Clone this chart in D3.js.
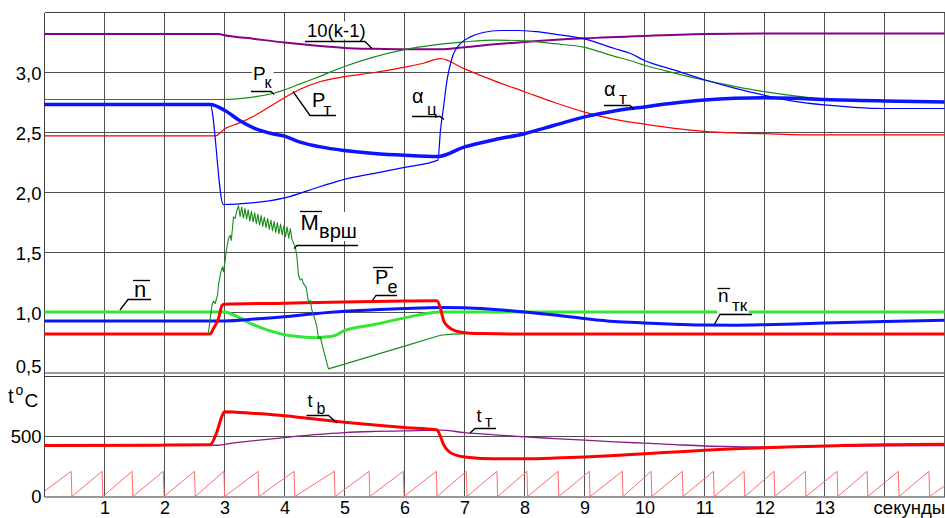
<!DOCTYPE html>
<html>
<head>
<meta charset="utf-8">
<script src="https://cdn.jsdelivr.net/npm/d3@7/dist/d3.min.js"></script>
<style>
body{margin:0;background:#fff}
svg{display:block;font-family:"Liberation Sans",Arial,sans-serif}
</style>
</head>
<body>
<svg width="945" height="518"></svg>
<script>
// tick labels
const seconds = [1,2,3,4,5,6,7,8,9,10,11,12,13];
const gridSeconds = [1,2,3,4,5,6,7,8,9,10,11,12,13,14];
const topTicks = [0.5,1,1.5,2,2.5,3];
const topGrid = [1,1.5,2,2.5,3];
const botTicks = [0,500];

// upper panel, [seconds, value]
const kMinus1 = [[0,3.32],[2.9,3.32],[3,3.31],[3.5,3.28],[4,3.25],[4.5,3.225],[5,3.205],[5.5,3.197],[6,3.193],[6.6,3.194],[7,3.21],[7.5,3.235],[8,3.255],[9,3.285],[10,3.305],[11,3.32],[12,3.325],[15,3.325]];
const pK = [[0,2.775],[2.9,2.775],[3.3,2.785],[3.6,2.805],[3.8,2.825],[4,2.855],[4.26,2.905],[4.6,2.97],[5,3.05],[5.5,3.13],[6,3.19],[6.5,3.23],[7,3.255],[7.5,3.27],[8,3.263],[8.5,3.24],[9,3.21],[9.5,3.135],[9.76,3.1],[10,3.06],[10.5,2.995],[11,2.936],[11.5,2.885],[12,2.84],[12.5,2.805],[13,2.78],[14,2.76],[15,2.75]];
const pT = [[0,2.472],[2.85,2.472],[3,2.53],[3.25,2.58],[3.5,2.64],[4,2.79],[4.26,2.86],[4.6,2.925],[5,2.965],[5.5,3.0],[6,3.045],[6.3,3.075],[6.6,3.115],[7,3.03],[7.5,2.93],[8,2.84],[8.5,2.75],[9,2.67],[9.5,2.61],[10,2.57],[10.5,2.535],[11,2.51],[11.5,2.497],[12,2.49],[13,2.48],[15,2.48]];
const alphaC = [[0,2.74],[2.76,2.735],[2.98,1.9],[3.2,1.903],[3.5,1.915],[4,1.955],[4.6,2.05],[5,2.11],[5.5,2.16],[6,2.21],[6.556,2.27],[6.6,2.52],[6.65,2.71],[6.71,2.94],[6.79,3.117],[6.93,3.24],[7.1,3.297],[7.31,3.333],[7.6,3.35],[7.87,3.35],[8.2,3.34],[8.5,3.32],[9,3.28],[9.5,3.2],[9.76,3.16],[10,3.1],[10.5,3.02],[11,2.94],[11.5,2.87],[12,2.81],[12.5,2.76],[13,2.73],[13.5,2.71],[14,2.7],[15,2.7]];
const alphaT = [[0,2.733],[2.76,2.733],[3,2.686],[3.25,2.6],[3.5,2.535],[3.8,2.49],[4,2.47],[4.26,2.42],[4.6,2.38],[5,2.35],[5.5,2.325],[6,2.31],[6.56,2.3],[7,2.38],[7.5,2.44],[8,2.49],[8.5,2.56],[9,2.63],[9.5,2.68],[10,2.713],[10.5,2.745],[11,2.77],[11.5,2.785],[12,2.79],[12.5,2.785],[13,2.775],[14,2.763],[15,2.755]];
const mVrsh = [[2.73,0.82],[2.79,1.06],[2.817,1.094],[2.845,1.075],[2.883,1.144],[2.9,1.23],[2.94,1.34],[2.967,1.38],[2.983,1.34],[3.012,1.436],[3.028,1.505],[3.067,1.617],[3.095,1.644],[3.112,1.6],[3.133,1.7],[3.15,1.797],[3.178,1.785],[3.207,1.85],
  [3.233,1.89],[3.26,1.8],[3.287,1.879],[3.314,1.786],[3.341,1.866],[3.368,1.778],[3.395,1.855],[3.422,1.762],[3.449,1.843],[3.476,1.755],[3.503,1.83],[3.53,1.74],[3.557,1.82],[3.584,1.728],[3.611,1.808],[3.638,1.718],[3.665,1.794],[3.692,1.706],[3.719,1.784],[3.746,1.692],[3.773,1.771],[3.8,1.682],[3.827,1.76],[3.854,1.668],[3.881,1.749],[3.908,1.657],[3.935,1.737],[3.962,1.647],[3.989,1.723],[4.016,1.633],[4.043,1.713],[4.07,1.62],[4.097,1.7],[4.124,1.612],
  [4.15,1.575],[4.18,1.547],[4.207,1.463],[4.233,1.31],[4.262,1.27],[4.29,1.28],[4.317,1.24],[4.36,1.213],[4.4,1.088],[4.43,1.1],[4.457,1.02],[4.512,0.935],[4.54,0.88],[4.567,0.783],[4.595,0.8],[4.65,0.686],[4.733,0.53],[5,0.57],[5.5,0.645],[6,0.72],[6.6,0.81],[6.8,0.82],[7.0,0.822]];
const nBar = [[0,1.005],[3.01,1.005],[3.15,0.98],[3.43,0.91],[3.71,0.855],[3.98,0.817],[4.26,0.797],[4.54,0.79],[4.71,0.797],[4.85,0.81],[5,0.85],[5.5,0.9],[6,0.955],[6.6,1.005],[15,1.005]];
const nTk = [[0,0.93],[3.01,0.93],[3.5,0.945],[4,0.965],[4.5,0.99],[5,1.01],[5.5,1.022],[6,1.033],[6.6,1.042],[7,1.04],[7.5,1.025],[8,1.005],[8.5,0.98],[9,0.95],[9.5,0.925],[10,0.913],[10.5,0.903],[11,0.895],[11.5,0.894],[12,0.898],[12.5,0.905],[13,0.912],[14,0.926],[15,0.936]];
const pE = [[0,0.82],[2.76,0.82],[2.82,0.87],[2.9,0.95],[2.96,1.06],[3,1.068],[4,1.078],[5,1.088],[6,1.095],[6.54,1.097],[6.6,1.033],[6.65,0.936],[6.73,0.88],[6.87,0.844],[7.04,0.83],[7.32,0.825],[8,0.82],[15,0.82]];

// lower panel, [seconds, degC]
const tB = [[0,425],[1.9,428],[2.76,432],[2.87,533],[2.96,673],[3,707],[3.5,692],[4,673],[4.5,645],[5,618],[5.5,595],[6,575],[6.54,556],[6.595,505],[6.65,435],[6.73,379],[6.87,343],[7.04,328],[7.5,315],[8,315],[8.5,320],[9,329],[9.5,342],[10,357],[10.5,371],[11,385],[11.5,397],[12,407],[12.5,415],[13,421],[14,432],[15,435]];
const tT = [[0,424],[2.9,427],[3,435],[3.5,465],[4,491],[4.5,515],[5,533],[5.5,542],[6,547],[6.6,553],[7,533],[7.5,514],[8,497],[8.5,483],[9,469],[9.5,456],[10,444],[10.5,432],[11,421],[11.5,415],[12,412],[13,418],[14,423],[15,425]];
// cycle marker: moments where the saw drops back to 0
const sawDrops = [0.445,0.96,1.46,1.98,2.5,2.99,3.56,4.16,4.83,5.41,5.98,6.53,7.03,7.54,8.04,8.56,9.08,9.63,10.11,10.63,11.15,11.66,12.16,12.68,13.21,13.71,14.23,14.74];
const sawTop = 210, sawStart = 45, sawEnd = 90;

const svg = d3.select("svg");
const x = d3.scaleLinear().domain([0,15]).range([44.5,944.5]);
const yTop = d3.scaleLinear().domain([0.5,3.5]).range([372.5,12.5]);
const yBot = d3.scaleLinear().domain([0,1000]).range([496.5,376.5]);

// grid
const grid = svg.append("g").attr("shape-rendering","crispEdges");
grid.selectAll(".vg").data(gridSeconds).enter().append("line")
  .attr("x1",d=>x(d)).attr("x2",d=>x(d)).attr("y1",yTop(3.5)).attr("y2",yBot(0))
  .attr("stroke","#505050");
grid.selectAll(".hg").data(topGrid).enter().append("line")
  .attr("x1",x(0)).attr("x2",x(15)).attr("y1",d=>yTop(d)).attr("y2",d=>yTop(d))
  .attr("stroke","#505050");
grid.append("line").attr("x1",x(0)).attr("x2",x(15)).attr("y1",yBot(500)).attr("y2",yBot(500)).attr("stroke","#505050");
// frames
grid.append("line").attr("x1",x(0)).attr("x2",x(15)).attr("y1",yTop(3.5)).attr("y2",yTop(3.5)).attr("stroke","#404040");
grid.append("line").attr("x1",x(0)).attr("x2",x(15)).attr("y1",yBot(1000)).attr("y2",yBot(1000)).attr("stroke","#404040");
grid.append("line").attr("x1",x(0)).attr("x2",x(15)).attr("y1",yTop(0.5)).attr("y2",yTop(0.5)).attr("stroke","#999").attr("stroke-width",2);
grid.append("line").attr("x1",x(0)).attr("x2",x(15)).attr("y1",yBot(0)).attr("y2",yBot(0)).attr("stroke","#999").attr("stroke-width",2);
grid.append("line").attr("x1",x(0)).attr("x2",x(0)).attr("y1",yTop(3.5)).attr("y2",yBot(0)).attr("stroke","#404040");
grid.append("line").attr("x1",x(15)).attr("x2",x(15)).attr("y1",yTop(3.5)).attr("y2",yBot(0)).attr("stroke","#606060");

// axes
const font = 18.5;
svg.append("g").attr("transform",`translate(${x(0)-2},0)`)
  .call(d3.axisLeft(yTop).tickValues(topTicks).tickSize(0).tickPadding(1)
    .tickFormat(d=>d.toFixed(1).replace(".",",")))
  .call(g=>g.select(".domain").remove())
  .call(g=>g.selectAll("text").attr("font-size",font).attr("font-family",null).attr("dy",d=>d==0.5?"0em":"0.38em"));
svg.append("g").attr("transform",`translate(${x(0)-2},0)`)
  .call(d3.axisLeft(yBot).tickValues(botTicks).tickSize(0).tickPadding(1))
  .call(g=>g.select(".domain").remove())
  .call(g=>g.selectAll("text").attr("font-size",font).attr("font-family",null).attr("dy","0.3em"));
svg.append("g").attr("transform",`translate(0,${yBot(0)})`)
  .call(d3.axisBottom(x).tickValues(seconds).tickSize(0).tickPadding(5).tickFormat(d3.format("d")))
  .call(g=>g.select(".domain").remove())
  .call(g=>g.selectAll("text").attr("font-size",18).attr("font-family",null));
svg.append("text").attr("x",945).attr("y",514).attr("text-anchor","end").attr("font-size",18.5).text("секунды");

// curves
const topLine = d3.line().x(d=>x(d[0])).y(d=>yTop(d[1])).curve(d3.curveMonotoneX);
const botLine = d3.line().x(d=>x(d[0])).y(d=>yBot(d[1])).curve(d3.curveMonotoneX);
const rawTop = d3.line().x(d=>x(d[0])).y(d=>yTop(d[1]));
const rawBot = d3.line().x(d=>x(d[0])).y(d=>yBot(d[1]));

function draw(gen, data, color, w){
  svg.append("path").attr("d",gen(data)).attr("fill","none")
    .attr("stroke",color).attr("stroke-width",w).attr("stroke-linejoin","round");
}

// saw points built from the drop moments
const saw = [[0,sawStart]];
sawDrops.forEach(t=>{ saw.push([t,sawTop]); saw.push([t+0.012,0]); });
saw.push([15,sawEnd]);
draw(rawBot, saw, "#ff6a6a", 1);
draw(botLine, tT, "#8b1a8b", 1.3);
draw(botLine, tB, "#ff0000", 3);

draw(topLine, kMinus1, "#880088", 2);
draw(topLine, pK, "#1a8c1a", 1.2);
draw(topLine, pT, "#ff0000", 1.2);
draw(topLine, alphaC, "#0000ff", 1.2);
draw(topLine, alphaT, "#0a14ff", 3.5);
draw(topLine, nBar, "#33e633", 3);
draw(topLine, nTk, "#0a14ff", 3);
draw(topLine, pE, "#ff0000", 3);
draw(rawTop, mVrsh, "#1a8c1a", 1.1);

// curve labels: text pieces [text, x, baseline, size], lines as polylines
const labels = [
  {parts:[["10(k-1)",307,36.5,18.5]], lines:[[[305,41.5],[365,41.5],[372,48.5]]]},
  {parts:[["P",253,80,19],["к",264.5,88,16]], lines:[[[251,91.5],[271,91.5],[274,94.5]]]},
  {parts:[["P",312,106.5,20],["т",323.5,115,17]], lines:[[[293,91.5],[310,115.5],[336,115.5]]]},
  {parts:[["α",412,103,20],["ц",427,114.5,17]], lines:[[[412,116.5],[440,116.5],[444,119.5]]]},
  {parts:[["α",604,95.5,20],["т",619,104,17]], lines:[[[604,105.5],[630,105.5],[634,109.5]]]},
  {parts:[["M",300.5,230,22],["врш",319,238,20]], lines:[[[300,211.5],[322,211.5]],[[294,248.5],[297,245.5],[358,245.5]]]},
  {parts:[["n",134,297,22]], lines:[[[133,280.5],[150,280.5]],[[120,310],[128,299.5],[151,299.5]]]},
  {parts:[["P",375,283.5,20],["e",387.5,292.5,18]], lines:[[[373,267.5],[393,267.5]],[[372.5,300.5],[376,295.5],[397,295.5]]]},
  {parts:[["n",718,301.5,19],["тк",732,310.5,17]], lines:[[[717.5,288.5],[730,288.5]],[[714,325],[720,314.5],[752,314.5]]]},
  {parts:[["t",307.5,406.5,18],["b",316.5,413.5,16]], lines:[[[306.5,415.5],[328.5,415.5],[337,423]]]},
  {parts:[["t",476.5,421.5,18],["т",485,427,16]], lines:[[[470,433],[475,428.5],[496,428.5]]]}
];
labels.forEach(lb=>{
  const g = svg.append("g");
  const txt = g.append("g");
  lb.parts.forEach(p=>txt.append("text").attr("x",p[1]).attr("y",p[2]).attr("font-size",p[3]).text(p[0]));
  const b = txt.node().getBBox();
  g.insert("rect","g").attr("x",b.x-1).attr("y",b.y+2).attr("width",b.width+2).attr("height",b.height-3).attr("fill","#fff");
  lb.lines.forEach(l=>g.append("path").attr("d",d3.line()(l)).attr("fill","none").attr("stroke","#000").attr("stroke-width",1.3));
});

// unit of the lower panel
const unit = svg.append("g");
unit.append("text").attr("x",8).attr("y",403).attr("font-size",20).text("t");
unit.append("text").attr("x",15.5).attr("y",395).attr("font-size",14).text("o");
unit.append("text").attr("x",24.5).attr("y",407).attr("font-size",19).text("C");
</script>
</body>
</html>
